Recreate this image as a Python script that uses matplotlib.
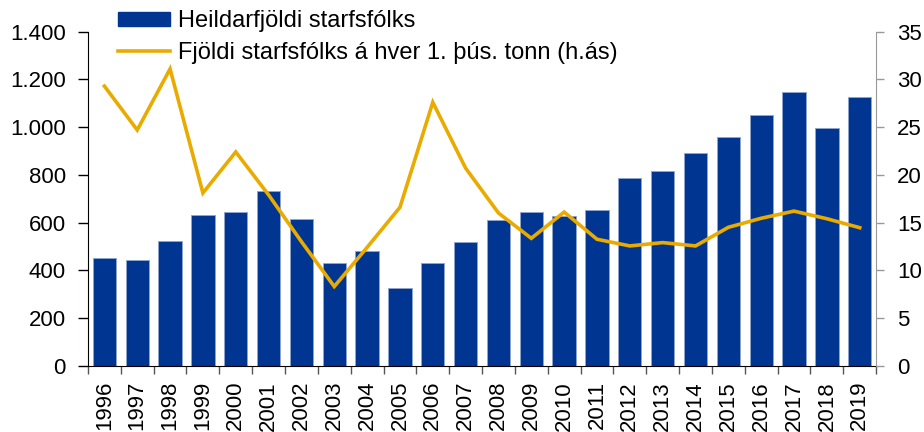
import matplotlib
matplotlib.use("Agg")
import matplotlib.pyplot as plt
from matplotlib.ticker import FuncFormatter, FixedLocator
from matplotlib.patches import Patch
from matplotlib.lines import Line2D
import numpy as np

years = [str(y) for y in range(1996, 2020)]
starfsfolk = [450, 442, 524, 632, 643, 732, 615, 429, 481, 326, 432, 520,
              610, 646, 628, 652, 786, 815, 890, 958, 1051, 1146, 997, 1125]
per_thus_tonn = [29.3, 24.7, 31.1, 18.1, 22.4, 17.9, 13.0, 8.3, 12.4, 16.6, 27.6, 20.7,
                 16.0, 13.35, 16.1, 13.25, 12.55, 12.9, 12.55, 14.5, 15.45, 16.2, 15.4, 14.46]
legend_labels = ["Heildarfjöldi starfsfólks", "Fjöldi starfsfólks á hver 1. þús. tonn (h.ás)"]

plt.rcParams['font.family'] = ['Liberation Sans', 'DejaVu Sans']
bar_color = '#003591'
line_color = '#EAAB00'
FS = 16
LFS = 17

fig = plt.figure(figsize=(9.24, 4.32), dpi=100)
ax = fig.add_axes([0.0952, 0.1535, 0.853, 0.7731])
x = np.arange(len(years))
ax.bar(x, starfsfolk, width=0.71, color=bar_color, edgecolor='#8FA5D0', linewidth=0.6, zorder=2)
ax.set_xlim(-0.5, len(years) - 0.5)
ax.set_ylim(0, 1400)
ax.set_yticks(range(0, 1401, 200))
ax.yaxis.set_major_formatter(FuncFormatter(lambda v, p: f"{int(v):,}".replace(",", ".")))
ax.set_xticks(x)
ax.set_xticklabels(years, rotation=90, fontsize=FS)
ax.tick_params(axis='x', which='major', length=0, pad=11)
ax.xaxis.set_minor_locator(FixedLocator(np.arange(-0.5, len(years), 1.0)))
ax.tick_params(axis='x', which='minor', length=6, width=1, color='#555555')
ax.tick_params(axis='y', labelsize=FS, length=7, width=1, pad=9)
ax.spines['top'].set_visible(False)
ax.spines['right'].set_visible(False)

ax2 = ax.twinx()
ax2.plot(x, per_thus_tonn, color=line_color, linewidth=2.6, zorder=3, solid_joinstyle='miter')
ax2.set_ylim(0, 35)
ax2.set_yticks(range(0, 36, 5))
ax2.tick_params(axis='y', labelsize=FS, length=6, width=1, color='#999999', pad=9)
ax2.spines['right'].set_color('#999999')
ax2.spines['top'].set_visible(False)
ax2.spines['left'].set_visible(False)
ax2.spines['bottom'].set_visible(False)

handles = [Patch(facecolor=bar_color, edgecolor=bar_color),
           Line2D([0], [0], color=line_color, linewidth=2.6)]
fig.legend(handles, legend_labels, loc='upper left', bbox_to_anchor=(0.1277, 0.976),
           frameon=False, fontsize=LFS, handlelength=2.2, handleheight=0.56,
           handletextpad=0.34, labelspacing=0.4, borderaxespad=0, borderpad=0)

fig.savefig("out.png", dpi=100)
